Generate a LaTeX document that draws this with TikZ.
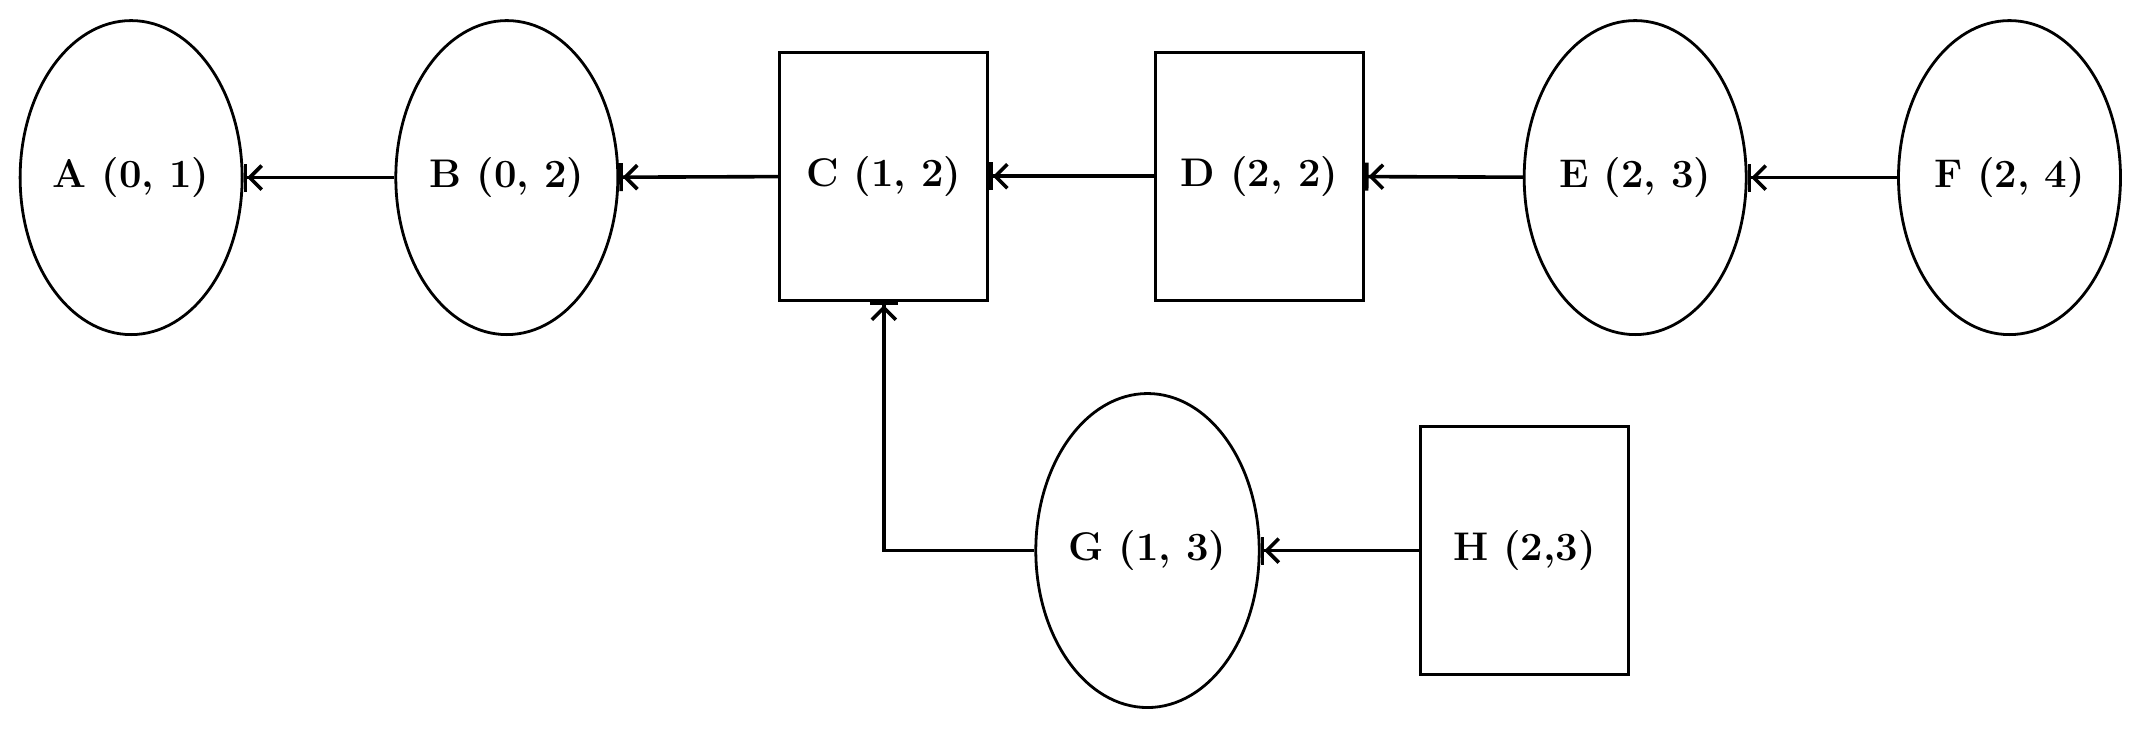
\documentclass[tikz,border=0pt]{standalone}
\usetikzlibrary{shapes.geometric,arrows.meta}
\begin{document}
\begin{tikzpicture}[x=0.683pt,y=-0.683pt,
  every node/.style={font=\fontsize{20}{24}\selectfont\bfseries},
  oval/.style={draw,line width=1.4pt,ellipse,inner sep=0pt,minimum width=111pt,minimum height=157pt},
  box/.style={draw,line width=1.4pt,rectangle,inner sep=0pt,minimum width=104pt,minimum height=124pt},
  conn/.style={line width=1.8pt,-{Straight Barb[length=6pt,width=12pt]Bar[width=14pt,sep=0pt]}}]
\useasboundingbox (0,0) rectangle (1568,533);
\node[oval] (A) at (96,130) {A (0, 1)};
\node[oval] (B) at (371,130) {B (0, 2)};
\node[box] (C) at (647,129) {C (1, 2)};
\node[box] (D) at (922,129) {D (2, 2)};
\node[oval] (E) at (1197,130) {E (2, 3)};
\node[oval] (F) at (1471,130) {F (2, 4)};
\node[oval] (G) at (840,403) {G (1, 3)};
\node[box] (H) at (1116,403) {H (2,3)};
\draw[conn] (B) -- (A);
\draw[conn] (C) -- (B);
\draw[conn] (D) -- (C);
\draw[conn] (E) -- (D);
\draw[conn] (F) -- (E);
\draw[conn] (H) -- (G);
\draw[conn] (G.west) -| (C.south);
\end{tikzpicture}
\end{document}
